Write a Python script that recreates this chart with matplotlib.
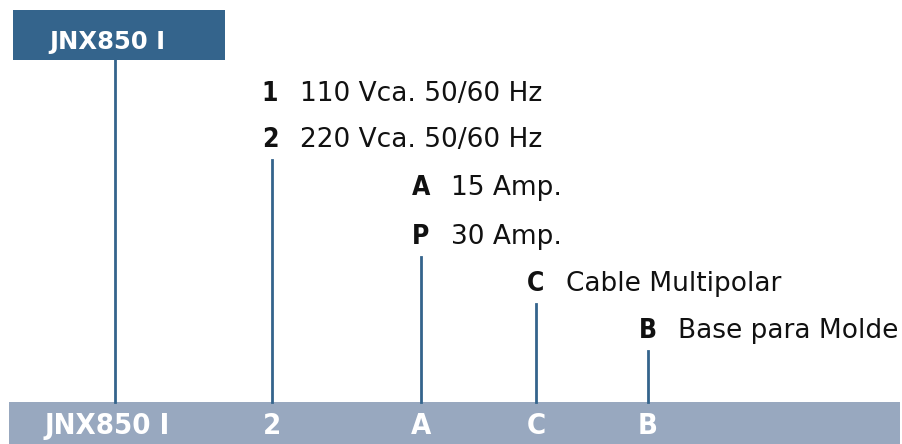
import matplotlib.pyplot as plt
from matplotlib.patches import Rectangle

model = "JNX850 I"
codes = ["1", "2", "A", "P", "C", "B"]
descs = ["110 Vca. 50/60 Hz", "220 Vca. 50/60 Hz", "15 Amp.", "30 Amp.",
         "Cable Multipolar", "Base para Molde"]
chosen = ["2", "A", "C", "B"]
groups = {"2": ["1", "2"], "A": ["A", "P"], "C": ["C"], "B": ["B"]}

dark = "#34648c"
light = "#98a8bf"

# column of each code (pixel x) and row (pixel y)
code_x = {"1": 270, "2": 270, "A": 421, "P": 421, "C": 536, "B": 648}
code_y = [94, 140, 188, 237, 284, 331]
line_x = {"2": 272, "A": 421, "C": 536, "B": 648}

fig = plt.figure(figsize=(9.02, 4.44), dpi=100)
ax = fig.add_axes([0, 0, 1, 1])
ax.set_xlim(0, 902)
ax.set_ylim(444, 0)
ax.axis("off")

font = "DejaVu Sans"

# header box
ax.add_patch(Rectangle((13, 10), 212, 50, color=dark, lw=0))
ax.text(107, 42, model, color="white", fontsize=17.5, fontweight="bold",
        family=font, ha="center", va="center")

# bottom bar
ax.add_patch(Rectangle((9, 402), 891, 42, color=light, lw=0))
ax.text(107, 426, model, color="white", fontsize=21, fontweight="bold",
        family=font, fontstretch="condensed", ha="center", va="center")

# model line
ax.plot([115, 115], [60, 402], color=dark, lw=2)

for c, d, y in zip(codes, descs, code_y):
    x = code_x[c]
    ax.text(x, y, c, fontsize=19, fontweight="bold", family=font,
            fontstretch="condensed", ha="center", va="center", color="#111111")
    ax.text(x + 30, y, d, fontsize=19, family=font,
            ha="left", va="center", color="#111111")

for c in chosen:
    x = line_x[c]
    y0 = max(code_y[codes.index(k)] for k in groups[c]) + 20
    ax.plot([x, x], [y0, 402], color=dark, lw=2)
    ax.text(x, 426, c, color="white", fontsize=21, fontweight="bold",
            family=font, fontstretch="condensed", ha="center", va="center")

fig.savefig("out.png", dpi=100)
